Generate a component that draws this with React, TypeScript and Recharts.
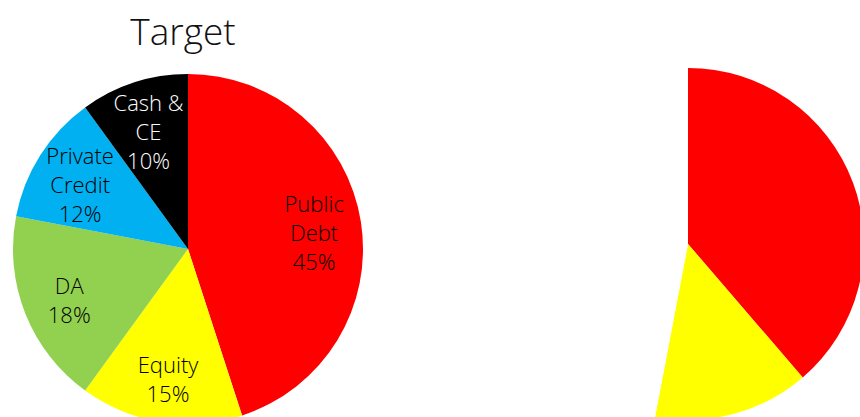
import { PieChart, Pie, Cell } from "recharts";

// Target allocation (left pie), clockwise from 12 o'clock
const targetNames = ["Public\nDebt", "Equity", "DA", "Private\nCredit", "Cash &\nCE"];
const targetValues = [45, 15, 18, 12, 10];
const sliceColors = ["#ff0000", "#ffff00", "#92d050", "#00b0f0", "#000000"];
const labelColors = ["#000000", "#000000", "#000000", "#000000", "#ffffff"];

// second pie, only partly visible in the frame
const currentNames = ["Public Debt", "Equity", "Other"];
const currentValues = [38.7, 14.3, 47];
const currentColors = ["#ff0000", "#ffff00", "#ffffff"];

const FONT = "'Century Gothic', 'Open Sans', sans-serif";
const RAD = Math.PI / 180;

const targetData = targetNames.map((name, i) => ({ name, value: targetValues[i] }));
const currentData = currentNames.map((name, i) => ({ name, value: currentValues[i] }));

function TargetLabel(props: any) {
  const { cx, cy, midAngle, outerRadius, index, percent } = props;
  const r = outerRadius * 0.73;
  const x = cx + r * Math.cos(-midAngle * RAD);
  const y = cy + r * Math.sin(-midAngle * RAD) + 3;
  const lines = [...targetNames[index].split("\n"), `${Math.round(percent * 100)}%`];
  const lh = 29;
  const top = y - ((lines.length - 1) * lh) / 2;
  return (
    <text
      x={x}
      y={top}
      textAnchor="middle"
      dominantBaseline="central"
      fill={labelColors[index]}
      fontFamily={FONT}
      fontWeight={300}
      fontSize={22}
    >
      {lines.map((l, k) => (
        <tspan key={k} x={x} y={top + k * lh}>
          {l}
        </tspan>
      ))}
    </text>
  );
}

export default function App() {
  return (
    <div style={{ position: "absolute", left: 0, top: 0, width: 860, height: 417, background: "#fff", overflow: "hidden" }}>
      <div
        style={{
          position: "absolute",
          left: 0,
          width: 366,
          top: 8,
          textAlign: "center",
          fontFamily: FONT,
          fontWeight: 300,
          fontSize: 37,
          color: "#111",
          lineHeight: "46px",
        }}
      >
        Target
      </div>
      <PieChart width={860} height={417} margin={{ top: 0, right: 0, bottom: 0, left: 0 }}>
        <Pie
          data={targetData}
          dataKey="value"
          cx={188}
          cy={249}
          outerRadius={175}
          startAngle={90}
          endAngle={-270}
          stroke="none"
          labelLine={false}
          label={TargetLabel}
          isAnimationActive={false}
        >
          {targetData.map((d, i) => (
            <Cell key={d.name} fill={sliceColors[i]} />
          ))}
        </Pie>
        <Pie
          data={currentData}
          dataKey="value"
          cx={688}
          cy={244}
          outerRadius={176}
          startAngle={90}
          endAngle={-270}
          stroke="none"
          isAnimationActive={false}
        >
          {currentData.map((d, i) => (
            <Cell key={d.name} fill={currentColors[i]} />
          ))}
        </Pie>
      </PieChart>
    </div>
  );
}
